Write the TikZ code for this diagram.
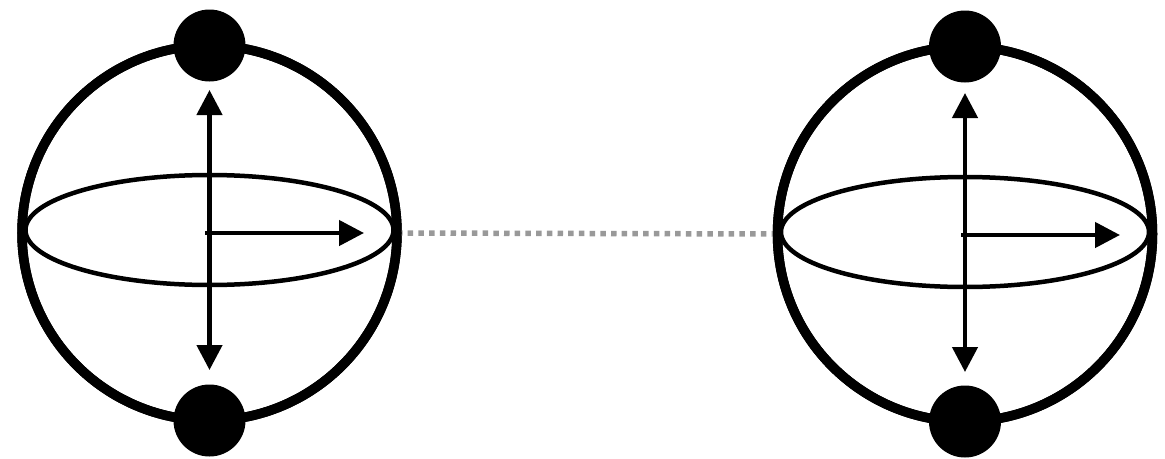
\documentclass[tikz,border=0pt]{standalone}
\usetikzlibrary{arrows.meta,shapes.geometric}
\definecolor{dotgray}{RGB}{153,153,153}
\tikzset{
  sphere/.style={circle, draw=black, line width=9.5pt, minimum size=375pt, inner sep=0pt, outer sep=0pt},
  pole/.style={circle, fill=black, minimum size=72pt, inner sep=0pt},
  equator/.style={ellipse, draw=black, line width=4.5pt, minimum width=368pt, minimum height=110pt, inner sep=0pt, outer sep=0pt},
  axis/.style={line width=4.5pt, -{Triangle[length=25pt,width=25pt]}},
  axisboth/.style={line width=4.5pt, {Triangle[length=25pt,width=25pt]}-{Triangle[length=25pt,width=25pt]}},
  link/.style={dotgray, line width=5.5pt, dash pattern=on 5.5pt off 5.2pt}
}
\begin{document}
\begin{tikzpicture}[x=1pt,y=-1pt]
\useasboundingbox (0,0) rectangle (1165,458);
% left sphere
\node[sphere] (L) at (209.5,233) {};
\node[equator] (Le) at (209.5,230) {};
\coordinate (Lt) at (209.5,90);
\coordinate (Lb) at (209.5,370);
\coordinate (Lx) at (364,233);
\coordinate (Lo) at (205,233);
% right sphere
\node[sphere] (R) at (965,234) {};
\node[equator] (Re) at (965,232) {};
\coordinate (Rt) at (965,93);
\coordinate (Rb) at (965,372);
\coordinate (Rx) at (1120,235);
\coordinate (Ro) at (961,235);
% dotted link
\draw[link] (L.east) -- (R.west);
\node[sphere] at (L) {};
\node[sphere] at (R) {};
% arrows
\draw[axisboth] (Lt) -- (Lb);
\draw[axis] (Lo) -- (Lx);
\draw[axisboth] (Rt) -- (Rb);
\draw[axis] (Ro) -- (Rx);
% poles
\node[pole] (Ln) at (L.north) {};
\node[pole] (Ls) at (L.south) {};
\node[pole] (Rn) at (R.north) {};
\node[pole] (Rs) at (R.south) {};
\end{tikzpicture}
\end{document}
